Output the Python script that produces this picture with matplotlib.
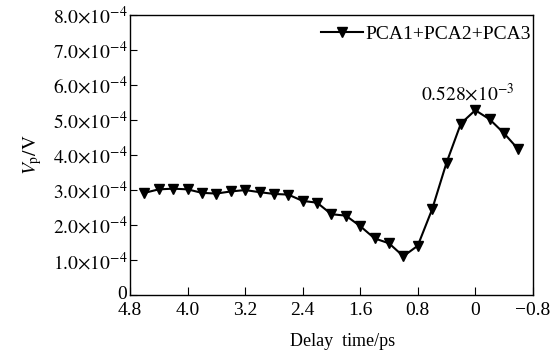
import matplotlib
matplotlib.use("Agg")
import matplotlib.pyplot as plt
from matplotlib.ticker import FuncFormatter
from matplotlib.transforms import ScaledTranslation

plt.rcParams['font.family'] = ['Liberation Serif', 'DejaVu Serif']
plt.rcParams['mathtext.fontset'] = 'stix'

# dados
atraso_ps = [4.6, 4.4, 4.2, 4.0, 3.8, 3.6, 3.4, 3.2, 3.0, 2.8, 2.6, 2.4, 2.2, 2.0,
             1.8, 1.6, 1.4, 1.2, 1.0, 0.8, 0.6, 0.4, 0.2, 0.0, -0.2, -0.4, -0.6]
vp_1e4 = [2.92, 3.02, 3.04, 3.02, 2.92, 2.90, 2.96, 3.00, 2.94, 2.89, 2.87, 2.69, 2.64, 2.31,
          2.27, 1.97, 1.62, 1.48, 1.11, 1.41, 2.45, 3.78, 4.90, 5.28, 5.02, 4.62, 4.16]
vp = [v * 1e-4 for v in vp_1e4]

y_ticks = [i * 1e-4 for i in range(9)]
x_ticks = [4.8, 4.0, 3.2, 2.4, 1.6, 0.8, 0.0, -0.8]


def fmt_y(v, pos):
    if abs(v) < 1e-12:
        return '0'
    return r'$%.1f{\times}10^{-4}$' % (v / 1e-4)


def fmt_x(v, pos):
    if abs(v) < 1e-9:
        return '0'
    if v < 0:
        return '\u2212%.1f' % abs(v)
    return '%.1f' % v


fig = plt.figure(figsize=(5.51, 3.56), dpi=100)
ax = fig.add_axes([0.236, 0.171, 0.731, 0.787])

ax.plot(atraso_ps, vp, color='black', lw=1.5, marker='v', ms=7,
        label='PCA1+PCA2+PCA3')

ax.set_xlim(4.8, -0.8)
ax.set_ylim(0, 8e-4)
ax.set_xticks(x_ticks)
ax.set_yticks(y_ticks)
ax.xaxis.set_major_formatter(FuncFormatter(fmt_x))
ax.yaxis.set_major_formatter(FuncFormatter(fmt_y))
ax.tick_params(axis='x', direction='in', length=6, width=0.8, labelsize=14, pad=5)
ax.tick_params(axis='y', direction='in', length=5, width=0.8, labelsize=14, pad=2)
for s in ax.spines.values():
    s.set_linewidth(1.0)

# "0" do eixo y um pouco acima, como no original
lbl0 = ax.get_yticklabels()[0]
lbl0.set_transform(lbl0.get_transform() + ScaledTranslation(0, 0.03, fig.dpi_scale_trans))

ax.annotate(r'$0.528{\times}10^{-3}$', xy=(0.0, 5.28e-4), xytext=(0.1, 5.45e-4),
            fontsize=14, ha='center', va='bottom')

ax.set_xlabel('Delay  time/ps', fontsize=13)
ax.xaxis.set_label_coords(0.527, -0.135)
ax.set_ylabel(r'$V_{\mathrm{p}}/\mathrm{V}$', fontsize=14, labelpad=6)

ax.legend(loc='upper right', bbox_to_anchor=(1.005, 0.977), frameon=False, fontsize=14,
          handlelength=2.2, handletextpad=0.1, borderaxespad=0.0, borderpad=0.2)

fig.savefig('out.png', dpi=100)
